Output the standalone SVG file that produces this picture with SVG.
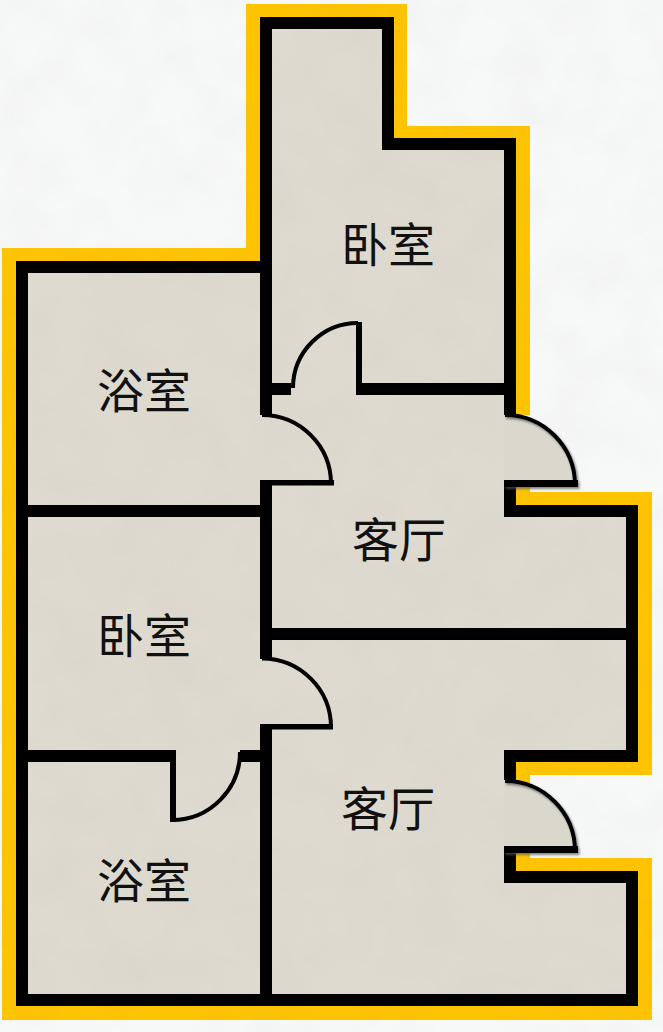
<svg xmlns="http://www.w3.org/2000/svg" width="663" height="1032" viewBox="0 0 663 1032">
  <style>
    .floor { fill: #dedacf; }
    .quad { fill: #dad7cc; }
    .wall { fill: none; stroke: #000; stroke-width: 12; stroke-linejoin: miter; stroke-linecap: butt; }
    .arc { fill: none; stroke: #000; stroke-width: 4; }
    .leaf { fill: #000; }
    .label { font-family: "Noto Sans CJK SC", "Noto Sans CJK JP", sans-serif; font-size: 47px; font-weight: 400; fill: #111; text-anchor: middle; }
  </style>
  <defs>
    <filter id="grain" x="0" y="0" width="100%" height="100%">
      <feTurbulence type="fractalNoise" baseFrequency="0.02" numOctaves="4" seed="7"/>
      <feColorMatrix type="matrix" values="0 0 0 0 0.35  0 0 0 0 0.35  0 0 0 0 0.3  0.1 0 0 0 -0.035"/>
    </filter>
    <filter id="shade" x="-20%" y="-20%" width="150%" height="150%">
      <feDropShadow dx="1.5" dy="2" stdDeviation="1" flood-color="#555" flood-opacity="0.7"/>
    </filter>
  </defs>

  <rect id="background" width="663" height="1032" fill="#f7f8f8"/>
  <polygon id="outer-band" fill="#ffc400" points="246,4 407,4 407,126 530,126 530,415 516,415 516,487 530,487 530,492 652,492 652,775 530,775 530,783 516,783 516,852 530,852 530,858 652,858 652,1020 2,1020 2,248 246,248"/>

  <g id="floors">
    <polygon id="floor-bedroom-top" class="floor" points="266,23 388,23 388,144 510,144 510,389 266,389"/>
    <polygon id="floor-living-top" class="floor" points="266,389 510,389 510,511 632,511 632,634 266,634"/>
    <polygon id="floor-living-bottom" class="floor" points="266,634 632,634 632,756 510,756 510,877 632,877 632,1000 266,1000"/>
    <rect id="floor-bath-top" class="floor" x="22" y="267" width="244" height="244"/>
    <rect id="floor-bedroom-left" class="floor" x="22" y="511" width="244" height="245"/>
    <rect id="floor-bath-bottom" class="floor" x="22" y="756" width="244" height="244"/>
  </g>
  <rect id="texture" width="663" height="1032" filter="url(#grain)"/>

  <g id="walls">
    <path class="wall" d="M510,415V144H388V23H266V267H22V1000H632V877H510V846"/>
    <path class="wall" d="M510,780V756H632V511H510V480"/>
    <path class="wall" d="M266,267V415M266,480V659M266,724V1000"/>
    <path class="wall" d="M266,389H291M356,389H510"/>
    <path class="wall" d="M22,511H266M266,634H632M22,756H176M240,756H266"/>
  </g>

  <g id="door-bedroom-top">
    <rect class="leaf" x="356" y="322" width="6" height="73"/>
    <path class="arc" d="M293,388A65,65 0 0 1 358,323"/>
  </g>
  <g id="door-bath-top">
    <path class="arc" d="M262,415A69,69 0 0 1 331,484"/>
    <rect class="leaf" x="260" y="480" width="74" height="5.5"/>
  </g>
  <g id="door-bedroom-left">
    <path class="arc" d="M262,658.5A69,69 0 0 1 331,727.5"/>
    <rect class="leaf" x="260" y="724" width="73" height="5.5"/>
  </g>
  <g id="door-bath-bottom">
    <rect class="leaf" x="170" y="750" width="6" height="72"/>
    <path class="arc" d="M172,820A68,68 0 0 0 240,752"/>
  </g>
  <g id="door-entry-top">
    <path class="quad" d="M504,415H505A70,70 0 0 1 575,485H504Z"/>
    <g filter="url(#shade)">
      <path class="arc" d="M505,415A70,70 0 0 1 575,485"/>
      <rect class="leaf" x="504" y="480" width="74" height="7"/>
    </g>
  </g>
  <g id="door-entry-bottom">
    <path class="quad" d="M504,781H505A70,70 0 0 1 575,851H504Z"/>
    <g filter="url(#shade)">
      <path class="arc" d="M505,781A70,70 0 0 1 575,851"/>
      <rect class="leaf" x="504" y="846" width="74" height="7"/>
    </g>
  </g>

  <g id="labels">
    <text class="label" x="388" y="262">卧室</text>
    <text class="label" x="144" y="408">浴室</text>
    <text class="label" x="399" y="557">客厅</text>
    <text class="label" x="144" y="653">卧室</text>
    <text class="label" x="388" y="826">客厅</text>
    <text class="label" x="144" y="898">浴室</text>
  </g>
</svg>
